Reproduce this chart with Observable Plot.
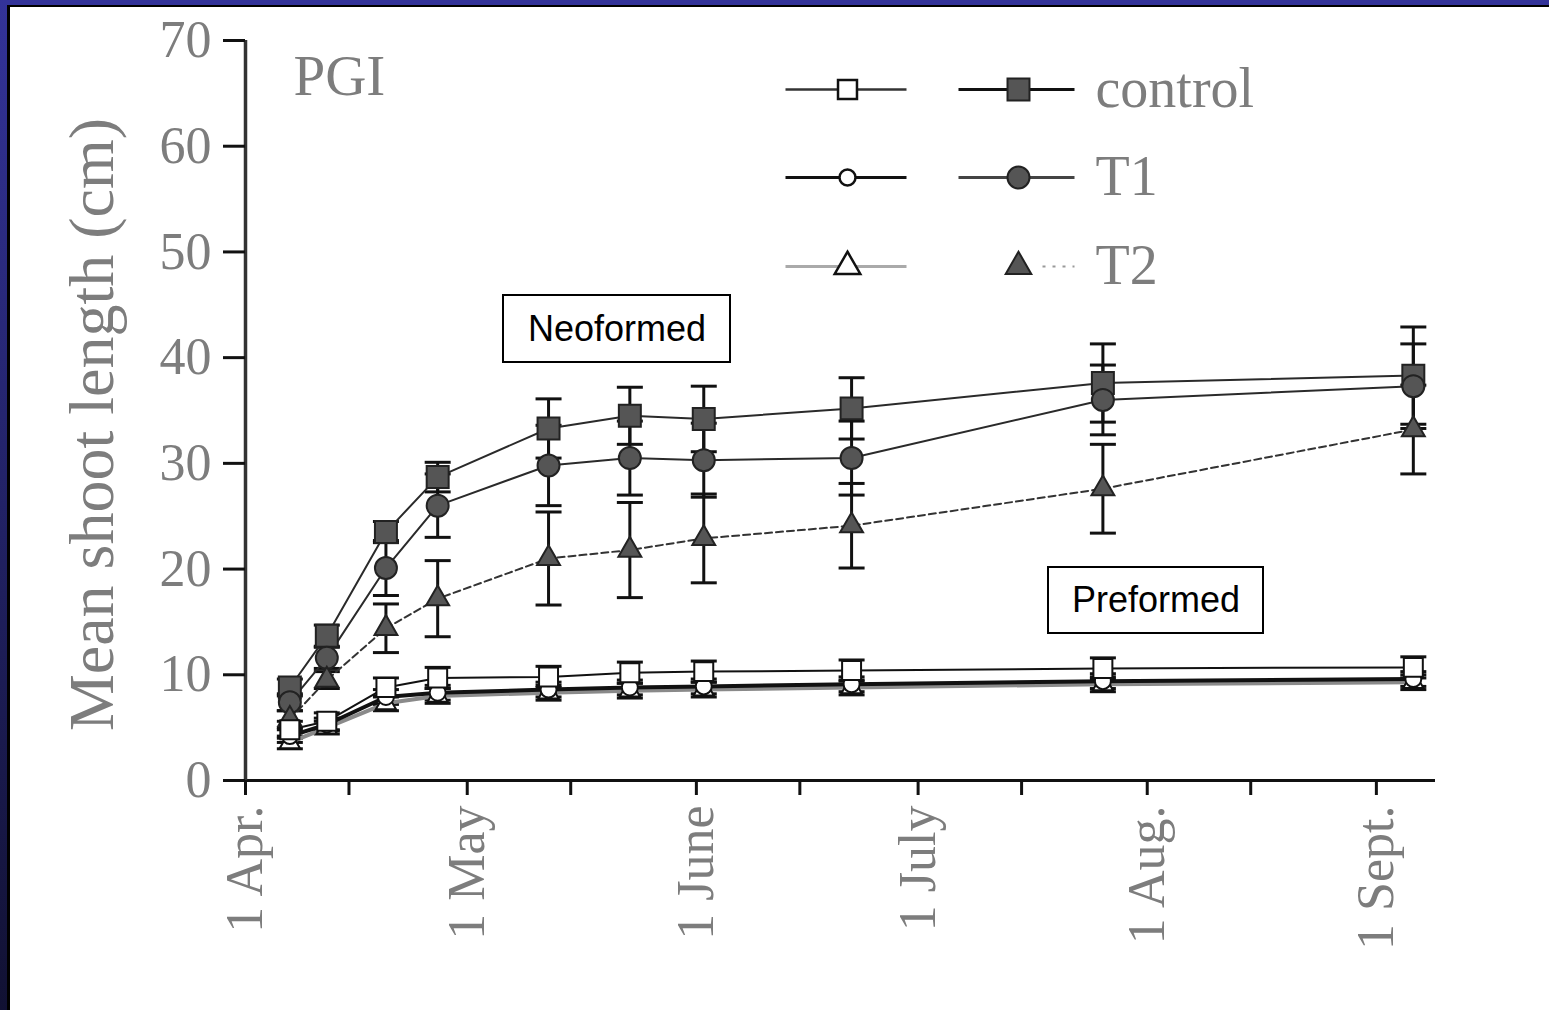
<!DOCTYPE html>
<html><head><meta charset="utf-8">
<script src="https://cdn.jsdelivr.net/npm/d3@7"></script>
<script src="https://cdn.jsdelivr.net/npm/@observablehq/plot@0.6"></script>
<style>
html,body{margin:0;padding:0;background:#fff;width:1549px;height:1010px;overflow:hidden;}
#wrap{position:relative;width:1549px;height:1010px;background:#fff;}
#chart{position:absolute;left:0;top:0;}
.band-top{position:absolute;left:0;top:0;width:1549px;height:5px;background:#333399;}
.line-top{position:absolute;left:0;top:5px;width:1549px;height:2px;background:#000;}
.band-left{position:absolute;left:0;top:0;width:7px;height:1010px;background:linear-gradient(#333399,#111133);}
.line-left{position:absolute;left:7px;top:5px;width:2.5px;height:1005px;background:#000;}
#chart g[aria-label="x-axis tick"] path, #chart g[aria-label="y-axis tick"] path{stroke-width:3px;}
</style></head>
<body>
<div id="wrap">
  <div id="chart"></div>
  <div class="band-top"></div><div class="line-top"></div>
  <div class="band-left"></div><div class="line-left"></div>
</div>
<script>
// ---------------- data ----------------
const dates = ["2000-04-07","2000-04-12","2000-04-20","2000-04-27","2000-05-12","2000-05-23","2000-06-02","2000-06-22","2000-07-26","2000-09-06"];
const neoControl    = [8.8, 13.7, 23.5, 28.7, 33.3, 34.5, 34.2, 35.2, 37.6, 38.3];
const neoControlErr = [0.8, 1.0, 1.0, 1.4, 2.8, 2.7, 3.1, 2.9, 3.7, 4.6];
const neoT1         = [7.4, 11.6, 20.1, 26.0, 29.8, 30.5, 30.3, 30.5, 36.0, 37.3];
const neoT1Err      = [0.8, 1.0, 2.6, 3.0, 3.8, 3.5, 3.5, 3.5, 3.3, 4.0];
const neoT2         = [5.8, 9.5, 14.4, 17.2, 21.0, 21.8, 22.9, 24.1, 27.6, 33.2];
const neoT2Err      = [0.8, 0.8, 2.3, 3.6, 4.4, 4.5, 4.2, 4.0, 4.2, 4.2];
const preControl    = [4.8, 5.6, 8.8, 9.7, 9.8, 10.2, 10.3, 10.4, 10.6, 10.7];
const preControlErr = [0.8, 0.8, 0.9, 1.0, 1.0, 1.0, 1.0, 1.0, 1.0, 1.0];
const preT1         = [4.2, 5.3, 7.9, 8.3, 8.6, 8.8, 8.9, 9.1, 9.4, 9.6];
const preT1Err      = [0.6, 0.6, 0.7, 0.7, 0.7, 0.7, 0.7, 0.7, 0.7, 0.7];
const preT2         = [3.6, 5.0, 7.3, 8.0, 8.3, 8.5, 8.6, 8.8, 9.1, 9.3];
const preT2Err      = [0.6, 0.6, 0.7, 0.7, 0.7, 0.7, 0.7, 0.7, 0.7, 0.7];

const yTicks = [0, 10, 20, 30, 40, 50, 60, 70];
const xTickDates  = ["2000-04-01","2000-04-15","2000-05-01","2000-05-15","2000-06-01","2000-06-15","2000-07-01","2000-07-15","2000-08-01","2000-08-15","2000-09-01"];
const xTickLabels = ["1 Apr.","","1 May","","1 June","","1 July","","1 Aug.","","1 Sept."];
const legendLabels = ["control", "T1", "T2"];
const yLabel = "Mean shoot length (cm)";
const panelLabel = "PGI";
const annotationLabels = ["Neoformed", "Preformed"];

// ---------------- layout ----------------
const W = 1549, H = 1010;
const mL = 245, mR = 114, mT = 40, mB = 230;
const xStart = new Date("2000-04-01"), xEnd = new Date("2000-09-09");
const DAY = 864e5;
const pxPerDay = (W - mR - mL) / ((+xEnd - +xStart) / DAY);
const pxPerUnit = (H - mB - mT) / 70;
const atX = p => new Date(+xStart + (p - mL) / pxPerDay * DAY);
const atY = p => (H - mB - p) / pxPerUnit;

const series = [
  {values: neoControl, err: neoControlErr, stroke: "#2a2a2a", width: 2, dash: null, symbol: "square", r: 12.4, fill: "#555", mstroke: "#222"},
  {values: neoT1, err: neoT1Err, stroke: "#2a2a2a", width: 2, dash: null, symbol: "circle", r: 11, fill: "#555", mstroke: "#222"},
  {values: neoT2, err: neoT2Err, stroke: "#333", width: 2, dash: "7,4", symbol: "triangle", r: 8.5, fill: "#555", mstroke: "#222"},
  {values: preT2, err: preT2Err, stroke: "#8a8a8a", width: 4, dash: null, symbol: "triangle", r: 7.5, fill: "white", mstroke: "#111"},
  {values: preT1, err: preT1Err, stroke: "#111", width: 4, dash: null, symbol: "circle", r: 8, fill: "white", mstroke: "#111"},
  {values: preControl, err: preControlErr, stroke: "#111", width: 2, dash: null, symbol: "square", r: 10.7, fill: "white", mstroke: "#111"}
];
const rowsOf = s => s.values.map((v, i) => ({date: new Date(dates[i]), value: v, err: s.err[i]}));

const capSymbol = {draw(ctx) { ctx.moveTo(-13, 0); ctx.lineTo(13, 0); }};

const allRows = series.flatMap(rowsOf);

const marks = [];
// axes lines
marks.push(Plot.ruleY([0], {stroke: "#111", strokeWidth: 3}));
marks.push(Plot.ruleX([xStart], {y1: 0, y2: 70, stroke: "#333", strokeWidth: 3.5}));
// error bars
marks.push(Plot.ruleX(allRows, {x: "date", y1: d => d.value - d.err, y2: d => d.value + d.err, stroke: "#111", strokeWidth: 3}));
marks.push(Plot.dot(allRows, {x: "date", y: d => d.value - d.err, symbol: capSymbol, r: 5, fill: "none", stroke: "#111", strokeWidth: 3}));
marks.push(Plot.dot(allRows, {x: "date", y: d => d.value + d.err, symbol: capSymbol, r: 5, fill: "none", stroke: "#111", strokeWidth: 3}));
// lines
for (const s of series) {
  marks.push(Plot.line(rowsOf(s), {x: "date", y: "value", stroke: s.stroke, strokeWidth: s.width, strokeDasharray: s.dash}));
}
// markers
for (const s of series) {
  marks.push(Plot.dot(rowsOf(s), {x: "date", y: "value", symbol: s.symbol, r: s.r, fill: s.fill, stroke: s.mstroke, strokeWidth: 2}));
}

// annotation boxes
const annotations = [
  {label: annotationLabels[0], x1: atX(503), x2: atX(730), y1: atY(362), y2: atY(295)},
  {label: annotationLabels[1], x1: atX(1048), x2: atX(1263), y1: atY(633), y2: atY(567)}
];
marks.push(Plot.rect(annotations, {x1: "x1", x2: "x2", y1: "y1", y2: "y2", fill: "white", stroke: "#000", strokeWidth: 2}));
marks.push(Plot.text(annotations, {
  x: d => new Date((+d.x1 + +d.x2) / 2), y: d => (d.y1 + d.y2) / 2, text: "label",
  fontFamily: "Liberation Sans, Arial, sans-serif", fontSize: 36, fill: "#000"
}));

// legend
const legendRows = [
  {label: legendLabels[0], py: 89,  openSym: "square",   openR: 10.7, filledSym: "square",   filledR: 12.4,
   leftStroke: "#333", leftWidth: 2.5, rightFrom: 958, rightStroke: "#111", rightWidth: 3, rightDash: null},
  {label: legendLabels[1], py: 177, openSym: "circle",   openR: 8,    filledSym: "circle",   filledR: 11,
   leftStroke: "#111", leftWidth: 3, rightFrom: 958, rightStroke: "#444", rightWidth: 3, rightDash: null},
  {label: legendLabels[2], py: 266, openSym: "triangle", openR: 9.5,  filledSym: "triangle", filledR: 9.5,
   leftStroke: "#aaa", leftWidth: 3, rightFrom: 1042, rightStroke: "#999", rightWidth: 2, rightDash: "3,7"}
];
for (const r of legendRows) {
  const y = atY(r.py);
  marks.push(Plot.link([r], {x1: atX(785), x2: atX(906), y1: y, y2: y, stroke: r.leftStroke, strokeWidth: r.leftWidth}));
  marks.push(Plot.link([r], {x1: atX(r.rightFrom), x2: atX(1074), y1: y, y2: y, stroke: r.rightStroke, strokeWidth: r.rightWidth, strokeDasharray: r.rightDash}));
  marks.push(Plot.dot([r], {x: atX(847), y, symbol: r.openSym, r: r.openR, fill: "white", stroke: "#111", strokeWidth: 2.5}));
  marks.push(Plot.dot([r], {x: atX(1018), y, symbol: r.filledSym, r: r.filledR, fill: "#555", stroke: "#222", strokeWidth: 2}));
  marks.push(Plot.text([r], {x: atX(1095), y, text: "label", textAnchor: "start", lineAnchor: "middle",
    fontFamily: "Liberation Serif, Times New Roman, serif", fontSize: 56, fill: "#7d7d7d"}));
}

// panel label & y label
marks.push(Plot.text([panelLabel], {frameAnchor: "top-left", dx: 48, dy: 14, lineAnchor: "top", textAnchor: "start",
  fontFamily: "Liberation Serif, serif", fontSize: 57, fill: "#7d7d7d"}));
marks.push(Plot.text([yLabel], {frameAnchor: "left", dx: -153, dy: 14, rotate: -90, textAnchor: "middle", lineAnchor: "middle",
  fontFamily: "Liberation Serif, serif", fontSize: 64, fill: "#7d7d7d"}));

// axes
marks.push(Plot.axisY({ticks: yTicks, tickSize: 22, tickPadding: 12, tickFormat: d => String(d),
  fontSize: 52, fontFamily: "Liberation Serif, serif", fill: "#7d7d7d", stroke: "#111"}));
marks.push(Plot.axisX({ticks: xTickDates.map(d => new Date(d)), tickSize: 15, tickPadding: 10, tickRotate: -90,
  tickFormat: d => xTickLabels[xTickDates.indexOf(d.toISOString().slice(0, 10))],
  fontSize: 52, fontFamily: "Liberation Serif, serif", fill: "#7d7d7d", stroke: "#111"}));

const chart = Plot.plot({
  width: W, height: H,
  marginLeft: mL, marginRight: mR, marginTop: mT, marginBottom: mB,
  x: {type: "utc", domain: [xStart, xEnd]},
  y: {domain: [0, 70]},
  style: {background: "transparent", overflow: "visible", fontFamily: "Liberation Serif, serif"},
  marks
});
document.getElementById("chart").appendChild(chart);
</script>
</body></html>
